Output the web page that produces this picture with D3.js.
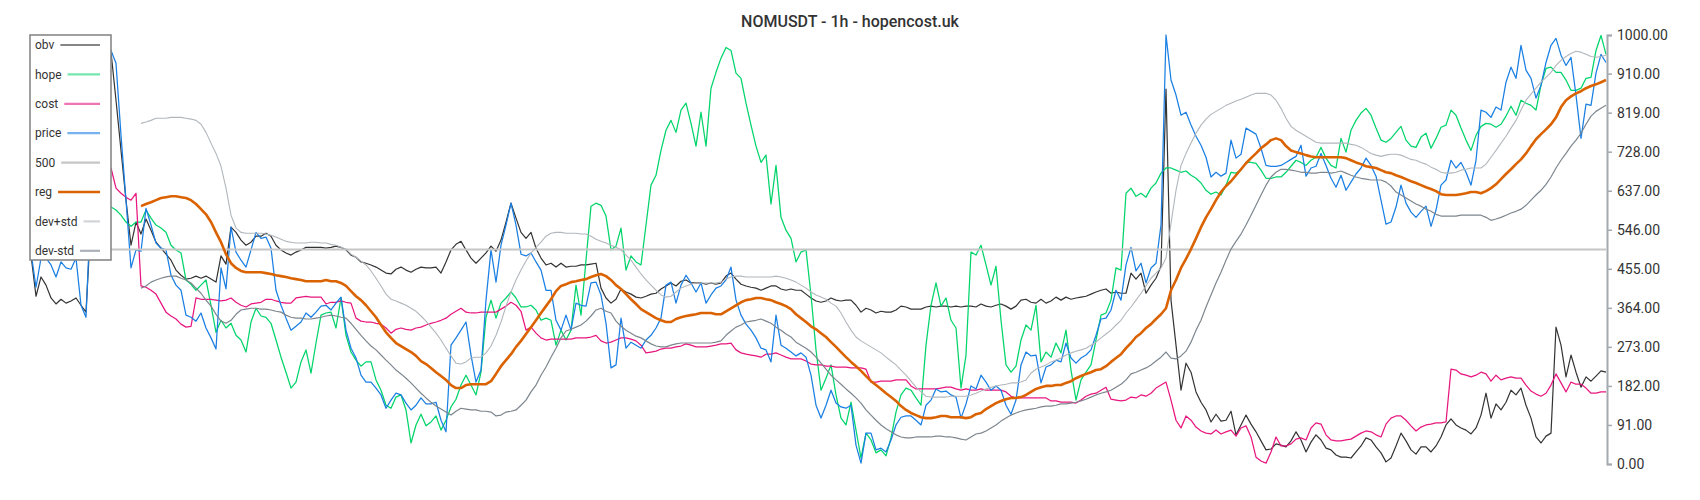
<!DOCTYPE html>
<html><head><meta charset="utf-8">
<script src="https://cdn.jsdelivr.net/npm/d3@7"></script>
<style>
body{margin:0;background:#fff;}
svg{display:block;font-family:Roboto, "Noto Sans", sans-serif;}
</style>
</head><body>
<svg id="chart" width="1700" height="500"></svg>
<script>
const chartTitle = "NOMUSDT - 1h - hopencost.uk";
const yTicks = [0, 91, 182, 273, 364, 455, 546, 637, 728, 819, 910, 1000];
const level500 = 500;
const bandStart = 22;

const obv = [
487,391,436,417,387,373,384,375,380,387,
370,354,568,871,953,976,960,848,731,615,
510,564,536,571,545,517,503,489,475,452,
440,431,433,438,433,438,431,424,485,466,
552,540,522,510,517,531,531,538,531,510,
499,492,487,494,499,505,505,505,505,503,
505,508,505,499,487,482,471,468,464,459,
452,445,443,454,459,452,447,454,459,457,
457,459,445,471,499,512,519,499,480,468,
480,492,508,496,522,564,608,573,540,526,
540,503,480,464,468,459,468,459,461,461,
464,464,466,468,410,387,375,384,408,401,
396,389,387,391,396,398,408,415,422,415,
426,429,422,422,422,419,422,419,422,438,
445,431,419,415,412,410,405,410,415,415,
408,405,408,405,405,396,387,380,377,380,
387,382,380,382,382,370,354,363,359,352,
356,354,354,359,368,366,361,361,361,366,
368,366,368,368,366,368,366,368,368,366,
373,368,366,370,373,368,361,368,382,384,
377,375,384,375,380,389,382,389,384,387,
389,391,396,401,405,408,398,401,398,398,
445,431,445,398,417,433,461,874,382,277,
172,235,214,168,144,126,98,116,100,102,
123,68,91,114,93,75,54,33,35,47,
44,40,54,75,56,28,51,68,56,37,
33,21,16,16,14,28,42,61,56,40,
26,5,14,42,72,54,33,23,40,40,
28,42,63,91,105,91,84,79,70,84,
114,165,107,140,126,144,172,161,177,137,
107,63,49,65,72,319,277,203,254,214,
179,203,193,205,217,214];

const hope = [
662,650,638,650,627,638,615,627,638,615,
603,615,650,673,638,615,599,592,580,564,
554,564,564,592,573,557,550,540,510,499,
492,429,419,405,417,429,370,307,335,317,
328,300,289,261,331,363,345,342,328,289,
249,214,177,191,238,266,212,282,347,352,
354,317,387,300,261,242,228,238,238,196,
172,137,130,156,161,126,49,91,116,89,
98,112,79,102,133,151,184,207,184,161,
214,342,382,340,375,387,401,387,366,366,
370,359,335,340,335,277,312,289,312,417,
347,475,601,608,603,578,499,508,550,452,
485,471,464,557,650,673,731,778,801,773,
825,841,794,741,820,741,876,913,946,971,
964,911,899,841,790,741,703,720,606,696,
575,545,526,471,494,499,394,266,172,200,
231,161,107,91,144,79,14,72,56,26,
33,19,61,121,161,177,172,154,137,277,
370,422,368,387,335,317,177,254,494,487,
510,464,417,461,335,231,214,228,289,324,
312,370,238,261,249,282,259,312,219,149,
196,214,231,289,347,352,382,457,452,631,
643,624,631,622,643,655,678,690,690,685,
680,683,673,666,655,638,629,634,627,650,
680,678,685,703,703,701,685,666,666,669,
669,680,694,708,703,696,708,715,738,713,
696,690,759,727,778,801,818,829,813,783,
755,750,759,773,787,755,741,738,762,771,
736,759,785,790,825,813,783,755,731,766,
787,794,792,785,792,811,834,813,848,841,
836,825,883,922,925,913,913,895,871,871,
876,899,901,964,999,955];

const cost = [
801,790,778,783,766,755,759,750,743,736,
731,727,720,713,708,696,690,643,631,622,
615,631,415,412,405,396,375,354,345,338,
326,319,321,387,384,384,384,382,380,382,
387,377,370,366,373,375,377,384,384,380,
377,375,375,387,389,391,389,389,389,373,
377,377,380,377,375,340,333,331,331,328,
326,317,305,314,317,314,312,317,319,324,
328,331,335,340,349,356,363,354,352,352,
354,354,354,354,361,368,377,370,356,312,
319,305,294,289,291,291,291,291,291,294,
294,294,296,300,287,282,284,289,294,294,
291,287,277,259,261,263,268,270,270,273,
275,280,277,273,273,273,275,277,280,280,
282,266,259,256,254,252,249,256,256,259,
254,249,245,245,245,240,233,231,231,228,
228,226,226,226,224,224,224,221,191,191,
193,193,193,196,196,196,182,175,175,175,
175,175,177,179,179,175,172,175,172,172,
175,172,172,172,172,168,158,154,154,154,
154,154,154,154,147,147,144,144,144,142,
149,158,163,165,172,179,151,149,147,149,
156,154,161,158,165,177,184,191,149,102,
84,112,102,86,77,72,70,79,70,75,
79,65,84,89,63,16,7,2,28,63,
42,42,47,58,61,56,84,96,93,68,
56,54,54,56,58,65,72,77,75,68,
63,93,107,112,112,102,89,77,86,91,
93,96,96,98,221,219,210,207,203,207,
214,210,193,207,196,200,203,200,200,184,
170,163,158,165,184,210,189,168,191,186,
186,177,165,165,168,168];

const price = [
494,412,480,480,464,436,471,457,454,480,
370,342,615,941,976,988,964,934,766,615,
457,499,496,596,557,515,503,499,440,417,
405,347,342,333,352,317,294,268,457,408,
552,494,475,459,499,540,526,529,503,405,
370,340,312,321,331,352,342,354,368,370,
359,375,389,312,270,247,207,191,191,177,
161,130,149,165,161,142,126,137,154,140,
140,144,102,75,277,294,312,331,254,191,
219,382,499,424,510,557,608,557,489,485,
492,471,452,405,405,335,312,347,312,375,
370,368,422,424,394,328,224,231,340,270,
284,277,270,289,300,317,340,417,424,375,
417,440,422,401,422,375,394,410,415,429,
459,382,347,326,312,294,270,266,238,347,
277,270,261,252,259,249,207,137,107,137,
172,142,133,130,137,44,2,72,72,33,
37,28,56,91,109,112,112,102,91,137,
149,175,168,170,161,156,107,140,182,175,
207,191,172,182,172,137,116,149,231,261,
252,254,189,226,231,242,238,282,247,235,
247,254,266,300,338,340,359,405,382,464,
505,450,468,422,457,468,557,1000,895,860,
813,820,790,764,743,715,669,680,671,678,
755,713,722,783,776,769,736,696,694,694,
696,703,710,717,743,671,690,694,724,696,
666,645,673,638,657,676,690,713,696,671,
615,559,564,599,650,608,587,575,589,601,
554,592,650,662,708,690,703,680,650,708,
825,820,808,832,825,890,925,899,976,918,
899,853,883,936,976,992,953,929,948,860,
759,839,836,911,955,936];

const reg = [
601,606,610,615,620,622,624,624,622,620,
615,606,594,582,564,540,517,489,468,457,
450,447,447,447,447,445,443,440,438,436,
433,431,429,426,426,426,426,429,426,426,
422,415,403,391,382,370,356,342,324,307,
294,282,275,268,261,252,240,233,224,214,
205,196,184,177,177,184,186,186,186,186,
193,210,228,242,256,273,287,303,319,335,
352,368,384,403,415,419,424,426,429,431,
436,440,443,438,429,417,408,396,384,373,
361,354,347,340,335,331,331,338,342,345,
347,349,352,352,352,349,349,356,363,370,
377,382,384,387,387,384,382,377,373,368,
361,349,340,331,321,314,305,296,284,273,
261,249,238,228,217,205,193,184,175,165,
156,147,135,126,119,114,109,107,107,109,
112,112,109,109,109,107,109,116,119,128,
135,142,147,151,154,154,156,161,168,175,
179,182,182,184,184,189,193,200,205,210,
214,219,221,228,238,247,256,270,282,296,
305,317,326,338,349,363,405,429,457,478,
501,526,552,575,594,615,634,648,659,673,
687,701,713,724,736,745,755,759,755,741,
731,727,724,720,717,715,715,715,715,715,
715,713,708,703,699,694,692,690,685,680,
678,673,669,664,659,655,650,645,641,636,
629,627,627,627,629,631,634,634,631,636,
643,652,664,676,687,699,710,724,741,757,
769,780,792,808,832,848,857,864,869,876,
881,885,890,895];

const devPlus = [
794,797,801,806,806,806,808,808,808,806,
804,801,792,773,748,724,694,643,580,550,
540,538,538,538,538,536,533,529,524,519,
517,515,515,515,517,517,515,515,512,510,
505,501,489,482,473,464,450,433,415,396,
384,380,375,370,363,356,345,333,319,305,
289,270,252,235,233,238,247,249,249,259,
275,300,331,368,401,429,452,473,492,505,
517,531,538,540,540,538,538,538,536,536,
531,524,519,515,510,505,499,487,475,459,
443,429,417,405,394,389,391,401,410,415,
419,422,422,422,422,422,424,431,436,438,
438,436,436,436,436,436,436,438,436,433,
429,424,417,410,401,394,389,384,375,368,
352,331,312,296,287,280,273,266,259,249,
240,231,219,207,193,179,168,158,156,156,
156,156,158,158,158,158,161,165,170,175,
179,182,184,186,189,189,191,196,212,221,
226,231,238,242,247,254,259,263,266,270,
277,284,294,303,312,324,335,352,366,382,
398,415,433,445,457,480,561,638,696,724,
748,771,790,804,815,822,829,836,841,846,
850,855,860,864,864,864,860,848,829,806,
787,778,771,764,757,750,748,748,748,748,
748,748,745,743,738,731,724,720,717,720,
722,722,720,715,710,708,703,699,692,687,
680,678,678,680,685,687,690,690,690,699,
715,731,748,764,783,801,825,848,862,876,
890,901,913,929,941,950,957,962,960,955,
950,948,950,953];

const devMinus = [
410,415,424,429,433,436,438,438,433,429,
422,410,398,382,368,349,333,328,335,349,
359,361,363,363,361,361,359,356,354,347,
342,340,340,338,338,340,342,345,347,345,
342,340,328,314,300,287,275,266,254,242,
231,219,210,200,189,177,165,154,144,135,
128,121,114,123,130,128,126,126,123,123,
121,112,114,121,123,126,137,149,168,184,
207,226,249,270,294,310,314,319,324,333,
345,359,363,356,352,333,321,312,305,298,
294,287,280,275,273,273,277,280,282,282,
282,282,282,282,282,284,287,300,310,319,
324,331,333,335,338,333,328,319,312,303,
296,284,277,270,261,249,235,221,207,196,
186,175,165,154,142,126,114,102,91,82,
75,68,63,61,61,63,63,63,63,65,
65,63,63,61,58,56,63,70,72,77,
84,91,100,107,114,119,123,126,128,130,
133,135,135,137,140,140,142,144,147,151,
156,161,165,168,172,179,186,196,210,214,
219,224,231,240,249,261,247,245,252,263,
284,312,335,366,394,422,447,475,501,519,
536,557,580,603,627,650,669,680,687,687,
685,683,680,680,678,678,680,680,678,680,
683,678,673,669,666,664,662,662,662,657,
648,634,627,620,613,606,601,594,589,582,
578,578,578,578,580,580,580,580,580,575,
568,571,575,580,585,589,594,603,615,627,
638,652,669,690,708,724,741,755,771,792,
811,822,829,836];

// ---------- layout ----------
const W = 1700, H = 500;
const plot = {left: 30, right: 1607, top: 35, bottom: 464};
const N = price.length;

const svg = d3.select("#chart");
svg.append("rect").attr("width", W).attr("height", H).attr("fill", "#fff");

const x = d3.scaleLinear().domain([0, N - 1]).range([plot.left + 1, plot.right - 1]);
const y = d3.scaleLinear().domain([0, 1000]).range([plot.bottom, plot.top]);

// title
svg.append("text")
  .attr("x", W / 2).attr("y", 26.5)
  .attr("text-anchor", "middle")
  .attr("font-size", 16).attr("font-weight", 500)
  .attr("fill", "#333")
  .text(chartTitle);

const series = [
  {name: "obv", data: obv, start: 0, color: "#333333", width: 1.2, legendOpacity: 0.6},
  {name: "hope", data: hope, start: 0, color: "#00d46a", width: 1.25, legendOpacity: 0.55},
  {name: "cost", data: cost, start: 0, color: "#e8177f", width: 1.25, legendOpacity: 0.6},
  {name: "price", data: price, start: 0, color: "#1a7fe3", width: 1.25, legendOpacity: 0.6},
  {name: "500", data: null, start: 0, color: "#c6c6c6", width: 2, legendOpacity: 1},
  {name: "reg", data: reg, start: bandStart, color: "#da6200", width: 2.6, legendOpacity: 1},
  {name: "dev+std", data: devPlus, start: bandStart, color: "#b2b7bc", width: 1.1, legendOpacity: 0.6},
  {name: "dev-std", data: devMinus, start: bandStart, color: "#7d868e", width: 1.2, legendOpacity: 0.65}
];

const gLines = svg.append("g");
const line = d3.line().x(d => x(d.i)).y(d => y(d.v));

series.forEach(s => {
  let pts;
  if (s.data === null) {
    pts = [{i: 0, v: level500}, {i: N - 1, v: level500}];
  } else {
    pts = s.data.map((v, k) => ({i: s.start + k, v}));
  }
  gLines.append("path")
    .datum(pts)
    .attr("d", line)
    .attr("fill", "none")
    .attr("stroke", s.color)
    .attr("stroke-width", s.width)
    .attr("stroke-linejoin", "round");
});

// right axis
const axis = d3.axisRight(y)
  .tickValues(yTicks)
  .tickFormat(d3.format(".2f"))
  .tickSize(5)
  .tickPadding(5);
const gAxis = svg.append("g")
  .attr("transform", `translate(${plot.right},0)`)
  .call(axis);
gAxis.select(".domain").attr("stroke", "#a3a9af").attr("stroke-width", 2);
gAxis.selectAll(".tick line").attr("stroke", "#a3a9af").attr("stroke-width", 1.5);
gAxis.selectAll(".tick text")
  .attr("font-size", 14)
  .attr("font-family", "Roboto, sans-serif")
  .attr("fill", "#333");

// legend
const legend = svg.append("g");
legend.append("rect")
  .attr("x", 30).attr("y", 35)
  .attr("width", 81).attr("height", 225)
  .attr("fill", "#fff")
  .attr("stroke", "#888")
  .attr("stroke-width", 1.6);

const legendTop = 45, legendStep = 29.4, swatchEnd = 100;
series.forEach((s, k) => {
  const cy = legendTop + k * legendStep;
  const t = legend.append("text")
    .attr("x", 35).attr("y", cy)
    .attr("dy", "0.35em")
    .attr("font-size", 12)
    .attr("fill", "#333")
    .text(s.name);
  const tw = t.node().getComputedTextLength();
  legend.append("line")
    .attr("x1", 35 + tw + 6).attr("x2", swatchEnd)
    .attr("y1", cy).attr("y2", cy)
    .attr("stroke", s.color)
    .attr("stroke-opacity", s.legendOpacity)
    .attr("stroke-width", s.name === "reg" ? 2.6 : 2.2);
});
</script>
</body></html>
